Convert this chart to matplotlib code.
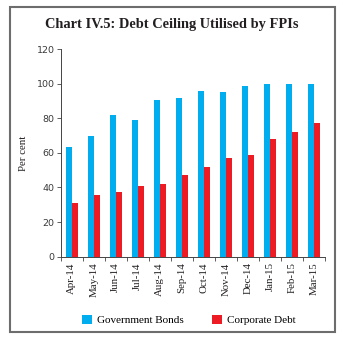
import numpy as np
import matplotlib
matplotlib.use("Agg")
import matplotlib.pyplot as plt
from matplotlib.patches import Rectangle

# Debt ceiling utilisation by FPIs, per cent
months = ["Apr-14", "May-14", "Jun-14", "Jul-14", "Aug-14", "Sep-14",
          "Oct-14", "Nov-14", "Dec-14", "Jan-15", "Feb-15", "Mar-15"]
govt_bonds = [63.2, 70.0, 82.0, 78.8, 90.5, 91.5, 95.5, 95.1, 98.4, 99.6, 99.6, 99.6]
corp_debt = [30.8, 35.5, 37.2, 41.0, 42.0, 47.4, 52.0, 56.8, 58.6, 67.8, 72.2, 77.2]

BLUE = "#00AEEF"
RED = "#ED1C24"
SERIF = "Liberation Serif"

fig = plt.figure(figsize=(3.43, 3.43), dpi=100)

# grey frame round the whole chart
fig.patches.append(Rectangle((10 / 343, 11 / 343), 325 / 343, 325 / 343,
                             transform=fig.transFigure, fill=False,
                             edgecolor="#6d6d6d", linewidth=1.5))

fig.text(0.502, 0.93, "Chart IV.5: Debt Ceiling Utilised by FPIs",
         ha="center", va="center", family=SERIF, fontweight="bold",
         fontsize=10.4, color="#231f20")

ax = fig.add_axes([0.177, 0.2516, 0.7706, 0.6055])

x = np.arange(len(months))
w = 0.27
ax.bar(x - w / 2, govt_bonds, width=w, color=BLUE, label="Government Bonds")
ax.bar(x + w / 2, corp_debt, width=w, color=RED, label="Corporate Debt")

ax.set_xlim(-0.5, len(months) - 0.5)
ax.set_ylim(0, 120)
ax.set_yticks(np.arange(0, 121, 20))
ax.set_xticks(x)
ax.set_xticklabels(months, rotation=90, family=SERIF, fontsize=7.8, color="#231f20")
ax.set_xticks(np.arange(-0.5, len(months), 1), minor=True)
ax.tick_params(axis="x", which="major", length=0, pad=4)
ax.tick_params(axis="x", which="minor", length=3, width=0.6, color="#444444")
ax.tick_params(axis="y", length=3, width=0.6, color="#444444",
               labelsize=6.8, labelcolor="#3a3a3a", pad=1.5)

for side in ("top", "right"):
    ax.spines[side].set_visible(False)
for side in ("left", "bottom"):
    ax.spines[side].set_color("#444444")
    ax.spines[side].set_linewidth(0.7)

ax.set_ylabel("Per cent", family=SERIF, fontsize=7.8, color="#231f20", labelpad=6)

handles, labels = ax.get_legend_handles_labels()
fig.legend(handles, labels, loc="center", bbox_to_anchor=(0.55, 0.067), ncol=2,
           frameon=False, prop={"family": SERIF, "size": 8},
           handlelength=0.9, handleheight=0.9, handletextpad=0.4,
           columnspacing=2.6)

fig.savefig("out.png", dpi=100)
